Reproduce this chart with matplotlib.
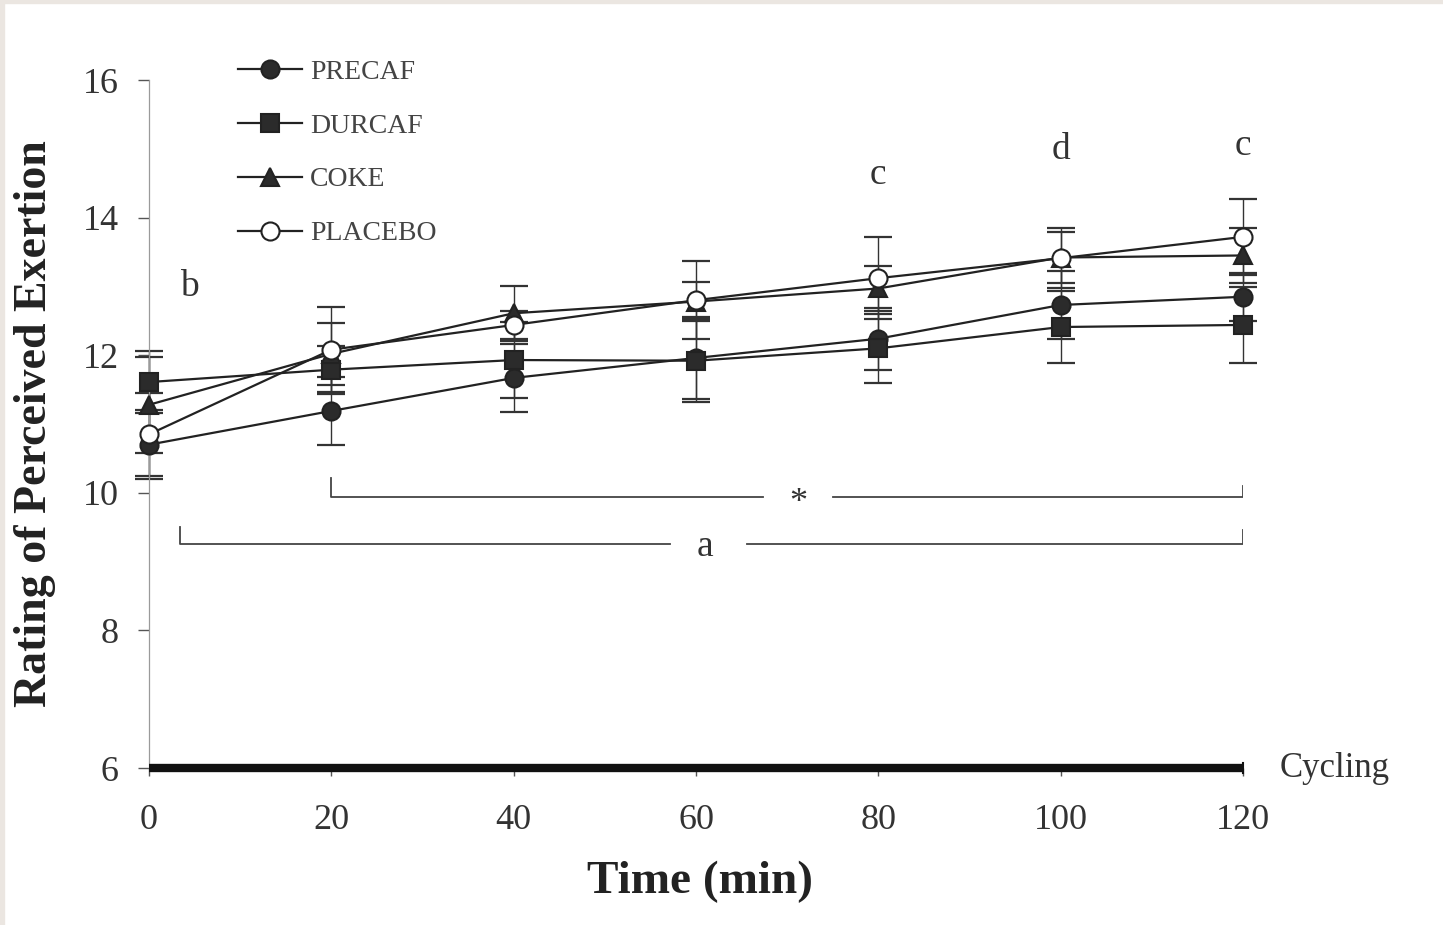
import numpy as np
import matplotlib.pyplot as plt
from matplotlib.patches import Rectangle

plt.rcParams['font.family'] = ['Liberation Serif', 'DejaVu Serif']

# RPE during 120 min cycling, mean and SE per trial
tiempo = [0, 20, 40, 60, 80, 100, 120]

precaf = [10.70, 11.19, 11.67, 11.96, 12.24, 12.73, 12.85]
precaf_se = [0.50, 0.50, 0.50, 0.60, 0.45, 0.50, 0.35]

durcaf = [11.61, 11.79, 11.93, 11.92, 12.10, 12.41, 12.44]
durcaf_se = [0.45, 0.35, 0.55, 0.60, 0.50, 0.52, 0.55]

coke = [11.28, 12.02, 12.61, 12.78, 12.97, 13.42, 13.45]
coke_se = [0.70, 0.45, 0.40, 0.28, 0.33, 0.37, 0.40]

placebo = [10.85, 12.08, 12.44, 12.80, 13.12, 13.41, 13.72]
placebo_se = [0.60, 0.62, 0.20, 0.57, 0.60, 0.44, 0.55]

series = [('PRECAF', precaf, precaf_se, 'o', '#2b2b2b'),
          ('DURCAF', durcaf, durcaf_se, 's', '#2b2b2b'),
          ('COKE', coke, coke_se, '^', '#2b2b2b'),
          ('PLACEBO', placebo, placebo_se, 'o', 'white')]

fig = plt.figure(figsize=(14.43, 9.25), dpi=100)
ax = fig.add_axes([0.1033, 0.1697, 0.7581, 0.7438])

for k, (nombre, y, se, m, fc) in enumerate(series):
    eb = ax.errorbar(tiempo, y, yerr=se, fmt='none', ecolor='#333333',
                     elinewidth=1.0, capsize=10, capthick=1.6, zorder=2)
    for art in eb.lines[1] + eb.lines[2]:
        art.set_clip_on(False)
for k, (nombre, y, se, m, fc) in enumerate(series):
    ax.plot(tiempo, y, marker=m, color='#222222', lw=1.6, ms=13,
            mfc=fc, mec='#222222', mew=1.5, label=nombre, zorder=3 + k,
            clip_on=False)

ax.set_xlim(0, 120)
ax.set_ylim(6, 16)
ax.set_xticks(range(0, 121, 20))
ax.set_yticks(range(6, 17, 2))

ax.spines['top'].set_visible(False)
ax.spines['right'].set_visible(False)
ax.spines['bottom'].set_visible(False)
ax.spines['left'].set_color('#9a9a9a')
ax.spines['left'].set_linewidth(0.9)
ax.spines['left'].set_linestyle((0, (2, 1)))

ax.tick_params(axis='y', direction='out', length=8, width=1, color='#555555',
               pad=14, labelsize=26, labelcolor='#333333')
ax.tick_params(axis='x', direction='out', length=6, width=1, color='#555555',
               pad=20, labelsize=26, labelcolor='#333333')

# barra de ciclismo sobre el eje x
ax.plot([0, 120], [6, 6], color='#111111', lw=6, solid_capstyle='butt',
        clip_on=False, zorder=6)
ax.plot([120, 120], [5.93, 6.07], color='#111111', lw=1.5, clip_on=False, zorder=6)
ax.text(124, 6, 'Cycling', fontsize=25, color='#333333', va='center', ha='left')

ax.set_xlabel('Time (min)', fontsize=34, fontweight='bold', color='#222222')
ax.xaxis.set_label_coords(0.504, -0.135)
ax.set_ylabel('Rating of Perceived Exertion', fontsize=33, fontweight='bold',
              color='#222222')
ax.yaxis.set_label_coords(-0.085, 0.5)

# letras de significancia
ax.text(4.4, 13.0, 'b', fontsize=27, ha='center', va='center', color='#333333')
ax.text(80, 14.62, 'c', fontsize=27, ha='center', va='center', color='#333333')
ax.text(100, 14.98, 'd', fontsize=27, ha='center', va='center', color='#333333')
ax.text(120, 15.05, 'c', fontsize=27, ha='center', va='center', color='#333333')

# corchetes de comparacion
lc = '#444444'
ax.plot([20, 20, 67.3], [10.22, 9.94, 9.94], color=lc, lw=1.3)
ax.plot([75, 120, 120], [9.94, 9.94, 10.1], color=lc, lw=1.3)
ax.text(71.2, 9.84, '*', fontsize=26, ha='center', va='center', color='#333333')

ax.plot([3.4, 3.4, 57.1], [9.5, 9.26, 9.26], color=lc, lw=1.3)
ax.plot([65.6, 120, 120], [9.26, 9.26, 9.46], color=lc, lw=1.3)
ax.text(61.0, 9.22, 'a', fontsize=27, ha='center', va='center', color='#333333')

leg = ax.legend(loc='upper left', bbox_to_anchor=(0.071, 1.046), frameon=False,
                fontsize=20, handlelength=2.3, labelspacing=1.02,
                handletextpad=0.3, borderaxespad=0)
for t in leg.get_texts():
    t.set_color('#444444')

# marco gris del borde
fig.add_artist(Rectangle((0, 0.9967), 1, 0.0033, transform=fig.transFigure,
                         color='#ebe6e1', zorder=0))
fig.add_artist(Rectangle((0, 0), 0.003, 1, transform=fig.transFigure,
                         color='#ebe6e1', zorder=0))

fig.savefig('out.png', dpi=100)
